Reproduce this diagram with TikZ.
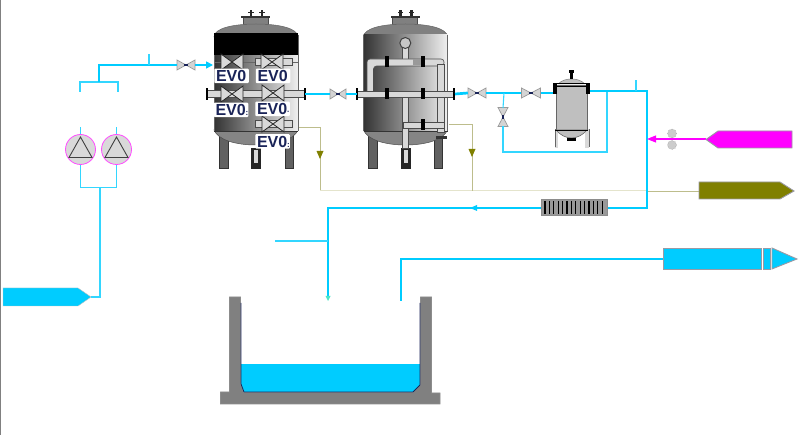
\documentclass[tikz,border=0pt]{standalone}
\usepackage{fontspec}
\setmainfont{Liberation Sans}
\usetikzlibrary{arrows.meta}
\definecolor{cy}{HTML}{00CCFF}
\definecolor{thincy}{HTML}{33D6FF}
\definecolor{mag}{HTML}{FF00FF}
\definecolor{oli}{HTML}{808000}
\definecolor{khaki}{HTML}{BDBD8C}
\definecolor{pale}{HTML}{E4E4CC}
\definecolor{navy}{HTML}{1A2458}
\definecolor{edge}{HTML}{9A9AA4}
\definecolor{wallc}{HTML}{808080}
\tikzset{
  pipe/.style={cy,line width=2.7pt},
  thinpipe/.style={thincy,line width=1.1pt},
  drain/.style={khaki,line width=.9pt},
  tip/.style={-{Triangle[length=7pt,width=7pt]}},
  feedbox/.style={draw=edge,line width=.9pt},
  ipipe/.style={draw=black!70,fill=black!15,line width=.6pt},
  evo/.style={fill=white,rounded corners=1pt,text=navy,font=\bfseries\fontsize{16}{16}\selectfont,inner sep=0pt,minimum height=14.5pt,minimum width=34.5pt},
  valvenode/.style={minimum width=#1,minimum height=8pt,inner sep=0pt},
  pumpc/.style={circle,draw=mag!70!white,fill=black!15,line width=.8pt,minimum size=30pt,inner sep=0pt},
  dosec/.style={circle,draw=black!40,fill=black!20,densely dotted,line width=.5pt,minimum size=9pt,inner sep=0pt}
}
\newcommand{\evotext}[1]{\makebox[34pt][l]{\hspace{1.5pt}EV0{\fontsize{8}{8}\selectfont #1}}}
% small valve: name, x, y, half length, rotation
\newcommand{\vlv}[5]{%
  \node[valvenode=#4*2pt,rotate=#5] (#1) at (#2,#3) {};
  \begin{scope}[shift={(#2,#3)},rotate=#5]
    \draw[draw=black!40,fill=black!17,line width=.7pt] (-#4,-5) -- (0,0) -- (-#4,5) -- cycle;
    \draw[draw=black!40,fill=black!17,line width=.7pt] (#4,-5) -- (0,0) -- (#4,5) -- cycle;
    \draw[navy,line width=1.1pt] (-2,0) -- (2,0);
  \end{scope}}
% big dark valve on tank 1
\newcommand{\bvlv}[2]{%
  \begin{scope}[shift={(#1,#2)}]
    \draw[draw=black!85,fill=black!15,line width=.8pt] (-11,-8) -- (11,8) -- (11,-8) -- (-11,8) -- cycle;
  \end{scope}}
% vessel
\newcommand{\vessel}[1]{%
  \begin{scope}[shift={(#1,0)}]
    \fill[black!62,draw=black!80,line width=.6pt] (5,135) rectangle (14,168);
    \fill[black!62,draw=black!80,line width=.6pt] (71,135) rectangle (79,168);
    \fill[black!85] (37,148) rectangle (47,169);
    \fill[black!15] (40,150) rectangle (44,163);
    \draw[fill=black!50,draw=black!70] (29,17) rectangle (54,24);
    \fill[black!80] (27,16) rectangle (56,18);
    \fill[black!85] (35.5,10) rectangle (38,16);
    \fill[black!85] (46.5,10) rectangle (49,16);
    \fill[black!85] (34,12) rectangle (39.5,13.5);
    \fill[black!85] (45,12) rectangle (50.5,13.5);
    \draw[fill=black!50,draw=black!60,line width=.5pt] (0,37) .. controls (0,28) and (20,24) .. (42,24) .. controls (64,24) and (84,28) .. (84,37) -- cycle;
    \draw[fill=black!48,draw=black!70,line width=.5pt] (0,130) .. controls (4,140) and (22,145) .. (42,145) .. controls (62,145) and (80,140) .. (84,130) -- cycle;
    \shade[left color=black!80,middle color=black!48,right color=black!6,shading angle=90] (0,35) rectangle (84,131);
    \draw[black!60,line width=.6pt] (0,35) -- (0,131) (84,35) -- (84,131);
    \draw[black!80,line width=.7pt] (0,131) -- (84,131);
  \end{scope}}
\begin{document}
\begin{tikzpicture}[x=1pt,y=-1pt]
\useasboundingbox (0,0) rectangle (801,435);
\fill[white] (0,0) rectangle (801,435);
\fill[black!50] (0,0) rectangle (1.2,435);

% ---- named points
\coordinate (feedA) at (91,297);
\coordinate (feedJ) at (100,297);
\coordinate (feedB) at (100,188);
\coordinate (pL) at (80.5,188);
\coordinate (pR) at (116.5,188);
\coordinate (upL) at (80,92);
\coordinate (upR) at (118,92);
\coordinate (upLt) at (80,82);
\coordinate (upRt) at (118,82);
\coordinate (upM) at (99,82);
\coordinate (upC) at (99,65);
\coordinate (tap1) at (149,65);
\coordinate (tap1t) at (149,54);
\coordinate (t1in) at (213,65);
\coordinate (t1out) at (305,94);
\coordinate (t2in) at (357,94);
\coordinate (t2out) at (455,94);
\coordinate (byT) at (504,93);
\coordinate (byB) at (503,152);
\coordinate (byR) at (607,152);
\coordinate (byRt) at (607,91);
\coordinate (fin) at (553,93);
\coordinate (fout) at (590,91);
\coordinate (tap2) at (636,91);
\coordinate (tap2t) at (636,80);
\coordinate (cor) at (647,91);
\coordinate (corB) at (647,208);
\coordinate (retL) at (328,208);
\coordinate (retB) at (328,297);
\coordinate (retM) at (476,208);
\coordinate (tap3) at (328,241);
\coordinate (tap3l) at (275,241);
\coordinate (outT) at (401,259);
\coordinate (outB) at (401,301);
\coordinate (dosJ) at (647,139);
\coordinate (d1a) at (298,127);
\coordinate (d1b) at (320,127);
\coordinate (d1m) at (320,155);
\coordinate (d1c) at (320,191);
\coordinate (d2a) at (449,124);
\coordinate (d2b) at (472,124);
\coordinate (d2m) at (472,153);
\coordinate (d2c) at (472,191);

% ---- drains (under everything else)
\draw[pale,line width=1pt] (d1c) -- (corB |- d1c);
\draw[drain] (corB |- d1c) -- (699,191);
\draw[drain] (d1a) -- (d1b) -- (d1c);
\draw[drain] (d2a) -- (d2b) -- (d2c);
\draw[pale,line width=1pt] (d1c) -- (d2c);
\fill[oli] (d1m) ++(-3.5,-4) -- ++(7,0) -- ++(-3.5,8) -- cycle;
\fill[oli] (d2m) ++(-3.5,-4) -- ++(7,0) -- ++(-3.5,8) -- cycle;

% ---- vessels
\vessel{214}
\vessel{363.5}
% tank 1 details
\fill[black] (214,33) rectangle (298,55);
\draw[black!60,line width=.5pt] (214,62) -- (298,62);
\foreach \y in {62,94,124} \draw[ipipe] (255,\y-3.5) rectangle (292,\y+3.5);
\draw[ipipe] (207,90.5) rectangle (305,97.5);
\fill[black] (206,88) rectangle (208,100);
\fill[black] (304,88) rectangle (306,100);
\bvlv{232}{62}\bvlv{272}{62}\bvlv{232}{94}\bvlv{273}{93}\bvlv{273}{124}
\node[evo] (ev1) at (231.5,76) {\evotext{}};
\node[evo] (ev2) at (273,76) {\evotext{}};
\node[evo] (ev3) at (231,110) {\evotext{:}};
\node[evo] (ev4) at (272.5,109) {\evotext{·}};
\node[evo] (ev5) at (272.5,141.5) {\evotext{:}};

% tank 2 piping
\draw[ipipe] (402,42) rectangle (408.5,62);
\draw[draw=black!75,fill=black!22,line width=1pt] (405.3,43) circle (5.5);
\draw[ipipe,rounded corners=3pt] (367,94) -- (367,59) -- (444,59) -- (444,66) -- (373.5,66) -- (373.5,94) -- cycle;
\draw[ipipe] (437.5,64) rectangle (444,132);
\draw[ipipe] (402,94) rectangle (408.5,148);
\draw[ipipe] (357,91) rectangle (454,97.5);
\draw[ipipe] (403,122) rectangle (444,128);
\fill[black!40] (413,59.5) rectangle (423,65.5);
\foreach \x/\y in {387/62,423/62,387/94,423/94,423/125}{
  \fill[black] (\x-1.7,\y-5.5) rectangle (\x+1.7,\y+5.5);
}
\fill[black] (356,88) rectangle (358,100);
\fill[black] (453,88) rectangle (455,100);
\fill[black!80] (436,136) rectangle (447,139);

% ---- filter
\fill[black!15] (555,129) rectangle (558,148);
\fill[black!15] (585,129) rectangle (589,148);
\draw[black!60,line width=.6pt] (555,129) -- (555,147) (589,129) -- (589,147);
\draw[fill=black!25,draw=black!60,line width=.6pt] (556,85) rectangle (587,130);
\draw[fill=black!25,draw=black!60,line width=.6pt] (556,130) .. controls (560,135) and (566,138) .. (571.5,138) .. controls (577,138) and (583,135) .. (587,130) -- cycle;
\draw[black,line width=.8pt] (555,130) -- (588,130);
\fill[black] (567,138) rectangle (576,141);
\draw[fill=black!25,draw=black!50,line width=.5pt] (558,84) .. controls (562,80) and (567,79) .. (571.5,79) .. controls (576,79) and (581,80) .. (585,84) -- cycle;
\draw[black,line width=1pt] (553,84) -- (590,84) (553,87) -- (590,87);
\fill[black] (553,83) rectangle (557,94);
\fill[black] (586,83) rectangle (590,94);
\fill[black] (569.5,72) rectangle (573,79);
\fill[black] (569,70) rectangle (574,73);

% ---- pumps
\node[pumpc] (p1) at (80.5,149.5) {};
\node[pumpc] (p2) at (116.5,149.5) {};
\foreach \c in {80.5,116.5}
  \draw[black!75,line width=.9pt] (\c,137) -- (\c-11.5,157.5) -- (\c+11.5,157.5) -- cycle;

% ---- valves
\vlv{v1}{186}{65}{9}{0}
\vlv{v2}{338}{94}{8}{0}
\vlv{v3}{477}{93}{9}{0}
\vlv{v4}{531}{93}{9.5}{0}
\vlv{v5}{503}{117}{9.5}{90}

% ---- process pipes
\draw[thincy,line width=1pt] (p1.south) -- (pL) -- (pR) -- (p2.south);
\draw[thinpipe] (feedB) -- (feedJ) -- (feedA);
\draw[thinpipe] (p1.north) -- ++(0,-7);
\draw[thinpipe] (p2.north) -- ++(0,-7);
\draw[thinpipe] (upL) -- (upLt) -- (upRt) -- (upR);
\draw[cy,line width=2.8pt] (upM) -- (upC) -- (tap1);
\draw[cy,line width=1.3pt] (tap1) -- (v1.west);
\draw[thinpipe] (tap1) -- (tap1t);
\draw[cy,line width=1.6pt,tip] (v1.east) -- (t1in);
\draw[pipe] (t1out) -- (v2.west);
\draw[pipe] (v2.east) -- (t2in);
\draw[pipe] (t2out) -- (v3.west);
\draw[pipe] (v3.east) -- (v4.west);
\draw[pipe] (v4.east) -- (fin);
\draw[thinpipe] (byT) -- (503,108);
\draw[thinpipe] (503,126.5) -- (byB) -- (byR) -- (byRt);
\draw[pipe] (fout) -- (cor) -- (corB) -- (607,208);
\draw[thinpipe] (tap2) -- (tap2t);
\draw[pipe] (541,208) -- (retM);
\draw[pipe] (retM) -- (retL) -- (retB);
\fill[cy] (retM) ++(-6,0) -- ++(7,-3) -- ++(0,6) -- cycle;
\fill[cy!70!green!70!white] (retB) ++(-2.5,-1) -- ++(5,0) -- ++(-2.5,5) -- cycle;
\draw[thinpipe] (tap3) -- (tap3l);
\draw[pipe] (outB) -- (outT) -- (663,259);

% ---- heat exchanger
\node[draw=black!45,fill=black!40,minimum width=66pt,minimum height=15.5pt,inner sep=0pt,line width=.7pt] (hx) at (574,207.5) {};
\foreach \i in {0,...,13}
  \draw[black,line width=1.1pt] (545+\i*4.4,201) -- (545+\i*4.4,214);

% ---- dosing
\node[dosec] (d1) at (672,133.5) {};
\node[dosec] (d2) at (672,145) {};
\draw[black!70,line width=.8pt] (d1.south) -- (d2.north);
\draw[mag,line width=1.1pt] (706,139) -- (650,139);
\draw[mag,line width=1.1pt,-{Triangle[length=9pt,width=7pt]}] (660,139) -- (dosJ);

% ---- feed boxes
\draw[feedbox,fill=cy,line width=.4pt,draw=black!25] (3,288) -- (78,288) -- (91,297) -- (78,306) -- (3,306) -- cycle;
\draw[feedbox,fill=mag] (792,131) -- (718,131) -- (706,139.5) -- (718,148) -- (792,148) -- cycle;
\draw[feedbox,fill=oli] (699,182) -- (780,182) -- (794,191) -- (780,199) -- (699,199) -- cycle;
\draw[feedbox,fill=cy] (663,248) rectangle (761,269);
\draw[feedbox,fill=cy] (763,248) rectangle (770,269);
\draw[feedbox,fill=cy] (772,248) -- (797,259) -- (772,269) -- cycle;

% ---- basin
\fill[cy] (241,364) rectangle (420,392);
\draw[draw=black!45,fill=wallc,line width=.7pt] (229.5,297) -- (240.5,297) -- (240.5,384) -- (243.5,392.5) -- (413,392.5) -- (420.5,385) -- (420.5,297) -- (431.5,297) -- (431.5,393) -- (440,393) -- (440,404) -- (220.5,404) -- (220.5,392) -- (229.5,392) -- cycle;
\draw[navy,line width=.8pt] (241,303) -- (241,384) -- (244,392) -- (413,392) -- (420,385) -- (420,303);
\end{tikzpicture}
\end{document}
